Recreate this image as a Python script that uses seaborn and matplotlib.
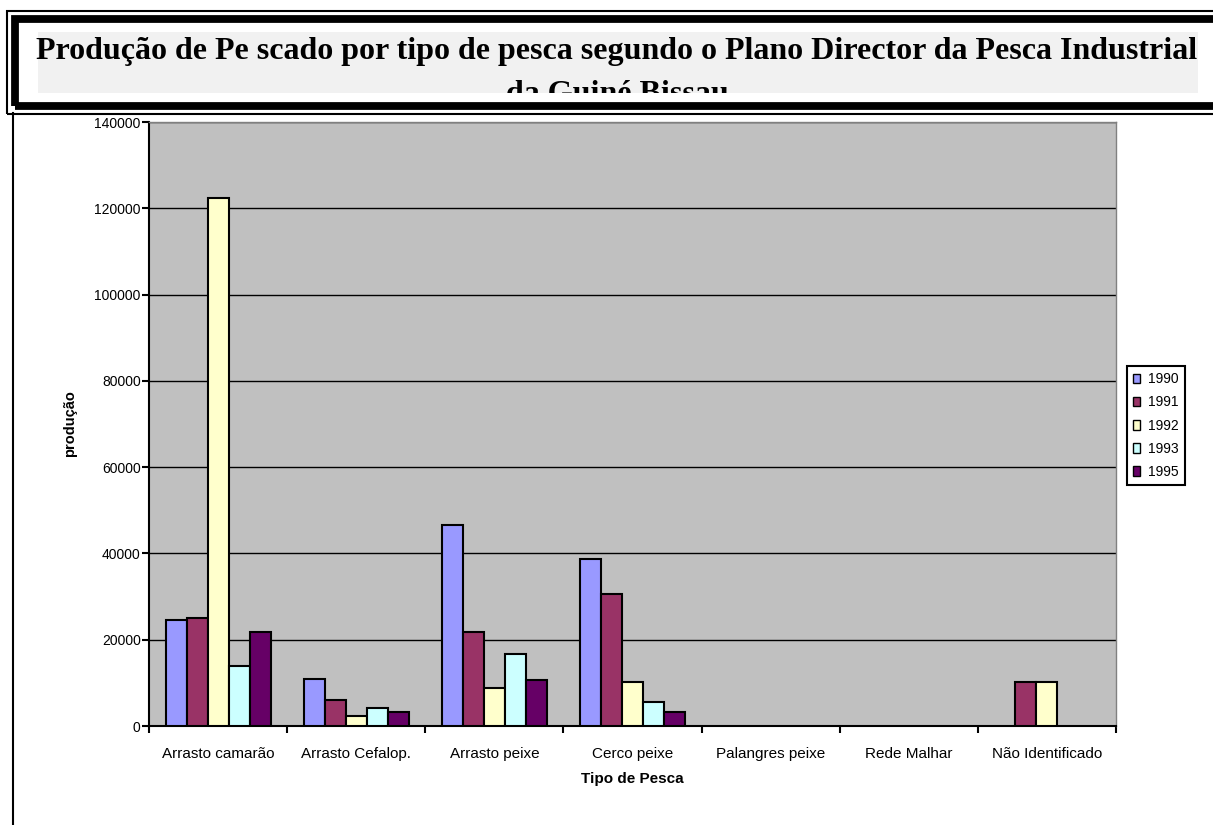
import pandas as pd
import numpy as np
import matplotlib
matplotlib.use("Agg")
import matplotlib.pyplot as plt
from matplotlib.patches import Rectangle
from matplotlib.lines import Line2D
import seaborn as sns

# Data
tipos = ['Arrasto camarão', 'Arrasto Cefalop.', 'Arrasto peixe', 'Cerco peixe',
         'Palangres peixe', 'Rede Malhar', 'Não Identificado']
anos = ['1990', '1991', '1992', '1993', '1995']
prod_1990 = [24600, 11000, 46500, 38600, np.nan, np.nan, np.nan]
prod_1991 = [25100, 6000, 21800, 30600, np.nan, np.nan, 10200]
prod_1992 = [122500, 2300, 8700, 10200, np.nan, np.nan, 10200]
prod_1993 = [13900, 4100, 16700, 5500, np.nan, np.nan, np.nan]
prod_1995 = [21800, 3200, 10700, 3200, np.nan, np.nan, np.nan]
yticks = [0, 20000, 40000, 60000, 80000, 100000, 120000, 140000]

colores = ['#9999FF', '#993366', '#FFFFCC', '#CCFFFF', '#660066']

# long form table for seaborn
df = pd.DataFrame({'tipo': tipos, '1990': prod_1990, '1991': prod_1991,
                   '1992': prod_1992, '1993': prod_1993, '1995': prod_1995})
df = df.melt(id_vars='tipo', var_name='ano', value_name='producao').dropna()

W, H = 1213, 825
fig = plt.figure(figsize=(W / 100, H / 100), dpi=100)
plt.rcParams['font.family'] = ['Liberation Sans', 'DejaVu Sans']


def fx(x):
    return x / W


def fy(y):
    return 1 - y / H


# title box (double frame like the excel chart)
caixa = Rectangle((fx(38), fy(93)), fx(1198) - fx(38), fy(32) - fy(93),
                  transform=fig.transFigure, fc='#F1F1F1', ec='none', zorder=1)
fig.add_artist(caixa)

titulo_fonte = dict(family=['Liberation Serif', 'DejaVu Serif'], fontsize=23,
                    fontweight='bold', ha='center', va='center', zorder=2)
t1 = fig.text(fx(617), fy(52), 'Produção de Pe scado por tipo de pesca segundo o Plano Director da Pesca Industrial',
              **titulo_fonte)
t2 = fig.text(fx(617), fy(94), 'da Guiné Bissau', **titulo_fonte)
# the second line is cut at the bottom of the grey box: cover the rest in white
fig.add_artist(Rectangle((fx(19), fy(103)), fx(1230) - fx(19), fy(93) - fy(103),
                         transform=fig.transFigure, fc='white', ec='none', zorder=4))

fig.add_artist(Rectangle((fx(7), fy(114)), fx(1230) - fx(7), fy(11) - fy(114),
                         transform=fig.transFigure, fill=False, ec='black', lw=1.5, zorder=5))
fig.add_artist(Rectangle((fx(15), fy(106)), fx(1230) - fx(15), fy(18.5) - fy(106),
                         transform=fig.transFigure, fill=False, ec='black', lw=5.6, zorder=5))
# left border of the chart area
fig.add_artist(Line2D([fx(13), fx(13)], [fy(113), 0], transform=fig.transFigure,
                      color='black', lw=1.5))

# plot area
ax = fig.add_axes([fx(149), fy(726), fx(1116) - fx(149), fy(122) - fy(726)])
ax.set_facecolor('#C0C0C0')

sns.barplot(data=df, x='tipo', y='producao', hue='ano', order=tipos,
            hue_order=anos, palette=colores, width=0.76, edgecolor='black',
            linewidth=1.5, saturation=1, ax=ax, zorder=3)

ax.set_xlim(-0.5, len(tipos) - 0.5)
ax.set_ylim(0, 140000)
ax.set_yticks(yticks)
ax.set_yticklabels([str(v) for v in yticks], fontsize=10)
ax.yaxis.grid(True, color='black', lw=1)
ax.set_axisbelow(True)

ax.set_xticks(range(len(tipos)))
ax.set_xticklabels(tipos, fontsize=11)
ax.set_xticks(np.arange(-0.5, len(tipos)), minor=True)
ax.tick_params(axis='x', which='major', length=0, pad=15)
ax.tick_params(axis='x', which='minor', length=5, width=1.5, direction='out')
ax.tick_params(axis='y', length=5, width=1.5, direction='out', pad=1)

ax.set_xlabel('Tipo de Pesca', fontsize=11, fontweight='bold', labelpad=8)
ax.set_ylabel('produção', fontsize=10.5, fontweight='bold', labelpad=12)

for lado in ['left', 'bottom']:
    ax.spines[lado].set_color('black')
    ax.spines[lado].set_linewidth(1.5)
for lado in ['top', 'right']:
    ax.spines[lado].set_color('#808080')
    ax.spines[lado].set_linewidth(1)

leg = ax.legend(loc='upper left', bbox_to_anchor=(fx(1127), fy(366)),
                bbox_transform=fig.transFigure, borderaxespad=0, fontsize=10,
                frameon=True, fancybox=False, edgecolor='black',
                handlelength=0.45, handleheight=0.7, handletextpad=0.6,
                labelspacing=0.66, borderpad=0.45)
leg.get_frame().set_linewidth(1.5)
leg.get_frame().set_facecolor('white')
leg.get_frame().set_alpha(1)
for h in leg.legend_handles:
    h.set_linewidth(1)

fig.savefig('out.png', dpi=100)
